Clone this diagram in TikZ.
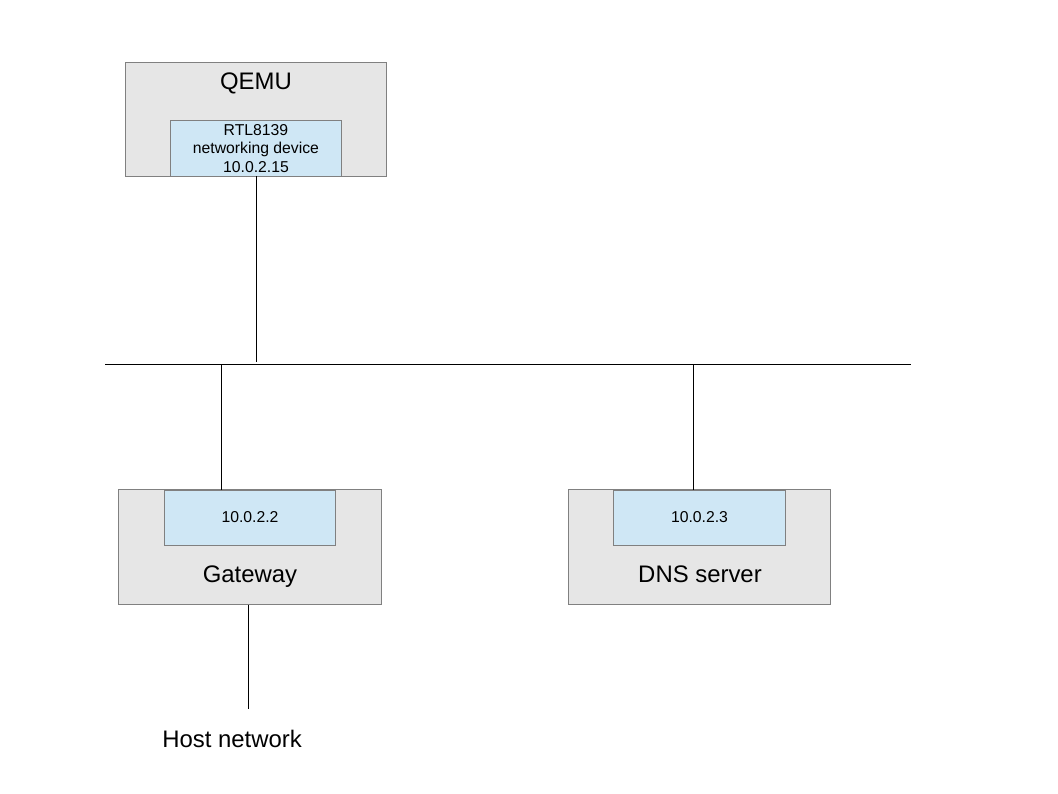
\documentclass[tikz,border=0pt]{standalone}
\usepackage{fontspec}
\setmainfont{Liberation Sans}
\definecolor{boxgray}{HTML}{E6E6E6}
\definecolor{nicblue}{HTML}{CFE7F5}
\definecolor{edgegray}{HTML}{808080}
\tikzset{
  hostbox/.style={draw=edgegray, fill=boxgray, line width=0.7pt, inner sep=0pt, minimum height=2.85cm},
  nicbox/.style={draw=edgegray, fill=nicblue, line width=0.7pt, inner sep=0pt, minimum width=4.25cm, minimum height=1.375cm, align=center, font=\fontsize{11.2}{13.1}\selectfont},
  biglabel/.style={inner sep=0pt, anchor=base, font=\fontsize{17}{20}\selectfont},
  wire/.style={line width=0.7pt}
}
\begin{document}
\begin{tikzpicture}[x=0.025cm, y=-0.025cm]
    \useasboundingbox (0,0) rectangle (1058,794);

    \node[hostbox, minimum width=6.5cm, minimum height=2.825cm] (qemu) at (256,119.5) {};
    \node[biglabel] (qemutext) at (256,90) {QEMU};
    \node[nicbox] (rtl) at (256,148.5) {RTL8139\\networking device\\10.0.2.15};

    \node[hostbox, minimum width=6.55cm] (gateway) at (250,547) {};
    \node[nicbox] (gwnic) at (250,517.5) {10.0.2.2};
    \node[biglabel] (gwtext) at (250,582) {Gateway};

    \node[hostbox, minimum width=6.525cm] (dns) at (699.5,547) {};
    \node[nicbox, minimum width=4.275cm] (dnsnic) at (699.5,517.5) {10.0.2.3};
    \node[biglabel] (dnstext) at (700,582) {DNS server};

    \node[biglabel] (host) at (232,747) {Host network};

    \coordinate (busleft) at (105,364);
    \coordinate (busright) at (911,364);
    \coordinate (gwtap) at (221,364);
    \coordinate (dnstap) at (693,364);
    \coordinate (hostend) at (248,709);

    \draw[wire] (busleft) -- (busright);
    \draw[wire] (rtl.south) -- ([yshift=0.05cm]rtl.south |- busleft);
    \draw[wire] (gwtap) -- (gwtap |- gwnic.north);
    \draw[wire] (dnstap) -- (dnstap |- dnsnic.north);
    \draw[wire] (gateway.south -| hostend) -- (hostend);
\end{tikzpicture}
\end{document}
